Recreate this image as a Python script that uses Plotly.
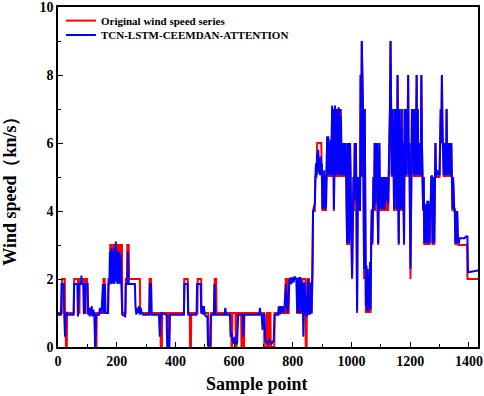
import plotly.graph_objects as go

# ---- Original wind speed series: low-speed part, value changes (sample where a run starts, value) ----
orig_low_x = [0, 14, 24, 27, 31, 55, 69, 74, 89, 93, 100, 126, 132, 155, 160, 172, 178, 181, 185, 188,
              192, 196, 199, 203, 207, 211, 214, 219, 231, 236, 242, 280, 312, 318, 350, 355, 376, 381,
              430, 443, 450, 454, 476, 489, 513, 522, 534, 540, 591, 594, 606, 609, 625, 627,
              633, 635, 703, 712, 716, 722, 725, 738, 776, 781, 787, 815, 818, 822, 825, 830, 833, 844,
              848, 851, 856]
orig_low_y = [1, 2, 1, 0, 1, 2, 1, 2, 1, 2, 1, 0, 1, 2, 1, 2, 3, 2, 3, 2,
              3, 2, 3, 2, 3, 2, 3, 1, 2, 3, 2, 1, 2, 1, 0, 1, 0, 1,
              2, 1, 0, 1, 2, 1, 0, 1, 2, 1, 0, 1, 0, 1, 0, 1,
              0, 1, 0, 1, 0, 1, 0, 1, 2, 1, 2, 1, 2, 1, 2, 1, 2, 0,
              1, 2, 1]

# ---- Original wind speed series: high-speed part (sample, value) ----
orig_high_x = [864, 867, 869, 872, 875, 877, 879, 881, 883, 885, 887, 889, 891, 893, 895,
               897, 899, 901, 903, 905, 907, 909, 911, 913, 915, 917, 919, 921, 923, 925,
               927, 929, 931, 934, 936, 938, 940, 942, 944, 946, 948, 950, 952, 954, 956,
               958, 960, 962, 964, 966, 968, 970, 972, 974, 976, 978, 980, 982, 985, 988,
               990, 992, 995, 997, 999, 1002, 1005, 1007, 1009, 1011, 1013, 1015, 1017, 1019, 1021,
               1023, 1025, 1027, 1029, 1031, 1033, 1035, 1037, 1039, 1041, 1043, 1045, 1047, 1049, 1051,
               1053, 1055, 1057, 1059, 1061, 1063, 1065, 1067, 1069, 1071, 1073, 1075, 1077, 1079, 1081,
               1083, 1085, 1087, 1089, 1091, 1093, 1095, 1097, 1099, 1101, 1103, 1105, 1107, 1109, 1111,
               1113, 1115, 1117, 1119, 1121, 1123, 1125, 1127, 1129, 1131, 1133, 1135, 1137, 1139, 1141,
               1143, 1145, 1147, 1149, 1151, 1153, 1155, 1157, 1159, 1161, 1163, 1165, 1167, 1169, 1171,
               1173, 1175, 1177, 1179, 1181, 1183, 1185, 1187, 1189, 1191, 1193, 1195, 1197, 1199, 1201,
               1204, 1206, 1208, 1210, 1212, 1214, 1216, 1218, 1220, 1222, 1224, 1226, 1228, 1230, 1232,
               1234, 1236, 1238, 1240, 1242, 1244, 1246, 1248, 1250, 1252, 1254, 1256, 1258, 1260, 1262,
               1264, 1266, 1268, 1270, 1272, 1274, 1276, 1278, 1280, 1282, 1284, 1286, 1288, 1290, 1292,
               1294, 1296, 1298, 1300, 1302, 1304, 1306, 1308, 1310, 1312, 1314, 1316, 1318, 1320, 1322,
               1324, 1326, 1328, 1330, 1332, 1334, 1336, 1338, 1340, 1342, 1344, 1346, 1348, 1350, 1352,
               1354, 1356, 1358, 1360, 1362, 1364, 1366, 1368, 1375, 1385, 1390, 1394, 1395, 1431]
orig_high_y = [1, 2, 4, 4, 4, 5, 5, 5, 6, 6, 6, 6, 6, 6, 6,
               6, 5, 4, 5, 4, 5, 4, 5, 4, 5, 6, 5, 6, 5, 6,
               5, 6, 5, 7, 5, 7, 4, 5, 7, 5, 7, 5, 7, 5, 7,
               5, 7, 5, 7, 5, 6, 5, 6, 5, 6, 5, 6, 5, 3, 6,
               5, 3, 6, 5, 4, 2, 4, 5, 4, 6, 5, 6, 4, 1, 4,
               5, 4, 5, 4, 8, 5, 9, 8, 7, 4, 2, 7, 2, 1, 2,
               1, 2, 1, 2, 1, 2, 1, 3, 4, 3, 4, 5, 4, 6, 4,
               6, 5, 6, 4, 3, 5, 6, 4, 5, 4, 5, 4, 5, 4, 5,
               4, 5, 4, 5, 4, 5, 4, 5, 5, 7, 9, 7, 5, 7, 5,
               6, 4, 7, 5, 7, 4, 5, 8, 5, 3, 7, 5, 6, 4, 7,
               4, 6, 5, 3, 7, 5, 7, 5, 7, 6, 8, 5, 6, 4, 2,
               5, 7, 6, 7, 5, 7, 6, 5, 6, 8, 5, 7, 5, 6, 5,
               6, 5, 8, 6, 5, 4, 5, 3, 4, 3, 4, 3, 4, 3, 4,
               4, 3, 4, 4, 5, 5, 3, 4, 5, 3, 5, 6, 5, 5, 5,
               5, 5, 5, 5, 6, 7, 6, 8, 6, 6, 5, 6, 5, 6, 5,
               7, 5, 6, 5, 6, 5, 6, 5, 6, 5, 4, 5, 4, 4, 4,
               3, 4, 3, 4, 3, 3, 3, 3, 3, 3, 3, 3, 2, 2]

# ---- TCN-LSTM-CEEMDAN-ATTENTION prediction (sample, value) ----
pred_x = [0, 10, 12, 19, 21, 24, 26, 30, 33, 53, 55, 66, 68, 71, 78, 80, 82, 86, 88, 91, 93, 101,
          103, 106, 108, 110, 112, 115, 117, 120, 124, 127, 130, 140, 143, 146, 149, 153, 156, 160,
          162, 170, 172, 175, 177, 179, 181, 183, 185, 187, 189, 191, 193, 195, 197, 199, 201, 203,
          205, 207, 209, 211, 213, 216, 219, 229, 231, 236, 238, 241, 262, 264, 267, 270, 273, 276,
          279, 282, 285, 290, 311, 313, 317, 319, 344, 347, 350, 353, 370, 372, 376, 378, 381, 429,
          431, 442, 444, 472, 474, 486, 488, 491, 494, 497, 500, 505, 509, 511, 518, 521, 531, 533,
          536, 568, 570, 573, 586, 588, 592, 595, 598, 602, 605, 610, 614, 629, 631, 634, 686, 688,
          690, 694, 697, 700, 704, 706, 712, 720, 728, 735, 738, 750, 752, 755, 758, 761, 764, 768,
          772, 776, 779, 782, 784, 787, 789, 791, 793, 795, 797, 799, 801, 803, 805, 808, 812, 815,
          818, 820, 822, 824, 828, 830, 833, 836, 840, 844, 848, 851, 853, 857, 860, 864, 867, 869,
          872, 875, 877, 879, 881, 883, 885, 887, 889, 891, 893, 895, 897, 899, 901, 903, 905, 907,
          909, 911, 913, 915, 917, 919, 921, 923, 925, 927, 929, 931, 934, 936, 938, 940, 942, 944,
          946, 948, 950, 952, 954, 956, 958, 960, 962, 964, 966, 968, 970, 972, 974, 976, 978, 980,
          982, 985, 988, 990, 992, 995, 997, 999, 1002, 1005, 1007, 1009, 1011, 1013, 1015, 1017,
          1019, 1021, 1023, 1025, 1027, 1029, 1031, 1033, 1035, 1037, 1039, 1041, 1043, 1045, 1047,
          1049, 1051, 1053, 1055, 1057, 1059, 1061, 1063, 1065, 1067, 1069, 1071, 1073, 1075, 1077,
          1079, 1081, 1083, 1085, 1087, 1089, 1091, 1093, 1095, 1097, 1099, 1101, 1103, 1105, 1107,
          1109, 1111, 1113, 1115, 1117, 1119, 1121, 1123, 1125, 1127, 1129, 1131, 1133, 1135, 1137,
          1139, 1141, 1143, 1145, 1147, 1149, 1151, 1153, 1155, 1157, 1159, 1161, 1163, 1165, 1167,
          1169, 1171, 1173, 1175, 1177, 1179, 1181, 1183, 1185, 1187, 1189, 1191, 1193, 1195, 1197,
          1199, 1201, 1204, 1206, 1208, 1210, 1212, 1214, 1216, 1218, 1220, 1222, 1224, 1226, 1228,
          1230, 1232, 1234, 1236, 1238, 1240, 1242, 1244, 1246, 1248, 1250, 1252, 1254, 1256, 1258,
          1260, 1262, 1264, 1266, 1268, 1270, 1272, 1274, 1276, 1278, 1280, 1282, 1284, 1286, 1288,
          1290, 1292, 1294, 1296, 1298, 1300, 1302, 1304, 1306, 1308, 1310, 1312, 1314, 1316, 1318,
          1320, 1322, 1324, 1326, 1328, 1330, 1332, 1334, 1336, 1338, 1340, 1342, 1344, 1346, 1348,
          1350, 1352, 1354, 1356, 1358, 1360, 1362, 1364, 1366, 1368, 1375, 1385, 1390, 1395, 1397,
          1431]
pred_y = [0.95, 0.95, 1.85, 1.85, 1.0, 0.3, 0.95, 1.0, 0.95, 0.95, 1.85, 1.85, 0.9, 1.85, 1.85, 2.1,
          1.85, 1.85, 1.0, 1.0, 1.85, 1.85, 0.95, 1.15, 0.9, 1.15, 0.95, 1.2, 0.9, 1.1, 0.95, 0.0,
          0.95, 0.95, 1.15, 1.0, 1.1, 1.85, 1.0, 1.85, 1.0, 1.0, 1.85, 1.85, 2.8, 1.9, 2.9, 1.85,
          2.8, 1.9, 2.9, 1.85, 2.9, 2.0, 3.1, 1.9, 2.8, 1.85, 2.8, 1.9, 2.8, 1.85, 2.7, 1.85, 0.95,
          0.9, 1.85, 1.85, 2.8, 1.85, 1.85, 1.2, 0.95, 1.15, 1.0, 1.2, 0.95, 1.15, 1.0, 0.95, 0.95,
          1.85, 1.85, 0.95, 0.95, 0.3, 0.95, 1.0, 0.95, 0.0, 0.3, 0.0, 0.95, 0.95, 1.85, 1.85, 0.95,
          0.95, 1.85, 1.85, 1.0, 1.2, 0.95, 1.2, 0.95, 0.9, 0.9, 0.05, 0.05, 0.95, 0.95, 1.85, 0.95,
          0.95, 1.15, 0.95, 0.95, 0.3, 0.4, 0.2, 0.1, 0.3, 0.1, 0.1, 0.95, 0.95, 0.3, 0.95, 0.95,
          1.15, 0.95, 0.95, 0.5, 0.95, 0.95, 0.2, 0.1, 0.2, 0.1, 0.2, 0.95, 0.95, 1.2, 0.95, 1.2,
          1.0, 1.2, 1.0, 1.2, 1.85, 1.2, 1.0, 1.2, 1.9, 2.0, 1.9, 2.05, 1.85, 2.05, 1.9, 2.05, 1.9,
          2.05, 2.05, 2.0, 1.0, 2.0, 2.05, 1.0, 2.05, 2.0, 1.0, 1.9, 0.3, 1.9, 1.0, 0.9, 2.0, 1.0,
          0.95, 1.9, 1.0, 2.5, 4.0, 4.1, 4.2, 5.0, 5.4, 5.05, 5.7, 5.2, 5.8, 5.1, 5.5, 5.05, 5.6,
          5.1, 5.4, 4.05, 5.05, 4.05, 5.2, 4.05, 5.05, 4.1, 5.05, 6.2, 5.05, 6.2, 5.1, 6.0, 5.05,
          6.1, 5.05, 7.1, 5.05, 7.0, 4.05, 5.05, 7.1, 5.05, 7.0, 5.2, 7.0, 5.05, 7.05, 5.05, 7.0,
          5.05, 6.8, 5.1, 6.0, 5.05, 6.0, 5.05, 6.0, 5.05, 6.0, 5.05, 3.05, 6.0, 5.05, 3.05, 6.0,
          5.05, 4.5, 2.05, 4.0, 5.0, 4.3, 6.0, 5.0, 6.0, 4.0, 1.05, 4.0, 5.0, 4.2, 5.0, 4.0, 8.0,
          5.0, 9.0, 8.0, 7.0, 4.0, 2.3, 7.0, 2.1, 1.2, 2.4, 1.05, 2.3, 1.05, 2.1, 1.2, 2.5, 1.1,
          3.05, 4.05, 3.05, 4.05, 5.0, 4.05, 6.0, 4.2, 6.0, 5.0, 6.0, 4.2, 3.05, 5.0, 6.0, 4.05,
          5.0, 4.05, 5.0, 4.05, 5.0, 4.1, 5.0, 4.05, 5.0, 4.3, 5.0, 4.5, 5.0, 4.2, 5.0, 5.2, 7.0,
          9.0, 7.0, 5.05, 7.0, 5.05, 6.0, 4.05, 7.0, 5.05, 7.0, 4.05, 5.05, 8.0, 5.05, 3.05, 7.0,
          5.05, 6.0, 4.05, 7.0, 4.05, 6.0, 5.05, 3.05, 7.0, 5.05, 7.0, 5.05, 7.0, 6.0, 8.0, 5.05,
          6.0, 4.05, 2.3, 5.0, 7.0, 6.0, 7.0, 5.05, 7.0, 6.0, 5.05, 6.0, 8.0, 5.05, 7.0, 5.05, 6.0,
          5.05, 6.0, 5.05, 8.0, 6.0, 5.05, 4.05, 5.0, 3.05, 4.2, 3.05, 4.2, 3.05, 4.3, 3.05, 4.3,
          4.05, 3.05, 4.2, 4.05, 5.0, 5.05, 3.05, 4.3, 5.0, 3.05, 5.0, 6.0, 5.0, 5.05, 5.2, 5.05,
          5.05, 5.1, 5.05, 6.0, 7.0, 6.0, 8.0, 6.5, 6.0, 5.05, 6.0, 5.05, 6.0, 5.05, 7.0, 5.05,
          6.0, 5.05, 6.0, 5.05, 6.0, 5.05, 6.0, 5.05, 4.05, 5.0, 4.05, 4.05, 4.05, 3.05, 4.0, 3.05,
          4.0, 3.05, 3.2, 3.05, 3.2, 3.2, 3.2, 3.25, 3.25, 2.2, 2.25]

x_ticks = [0, 200, 400, 600, 800, 1000, 1200, 1400]
y_ticks = [0, 2, 4, 6, 8, 10]

# The low-speed part of the original series is a sequence of constant runs: each run
# holds its value from its start sample up to the sample before the next change.
run_ends = [x - 1 for x in orig_low_x[1:]] + [orig_high_x[0] - 1]
orig_x, orig_y = [], []
for start, end, val in zip(orig_low_x, run_ends, orig_low_y):
    orig_x += [start, end]
    orig_y += [val, val]
orig_x += orig_high_x
orig_y += orig_high_y

serif = "Liberation Serif, Times New Roman, serif"

fig = go.Figure()
fig.add_trace(go.Scatter(x=orig_x, y=orig_y, mode="lines", name="Original wind speed series",
                         line=dict(color="#ff0000", width=2), legend="legend"))
fig.add_trace(go.Scatter(x=pred_x, y=pred_y, mode="lines", name="TCN-LSTM-CEEMDAN-ATTENTION",
                         line=dict(color="#0000ff", width=2), legend="legend2"))

axis_common = dict(showline=True, linecolor="black", linewidth=1.5, mirror=True, automargin=False,
                   showgrid=False, zeroline=False, ticks="inside", ticklen=5, tickwidth=1.2,
                   tickcolor="black", ticklabeloverflow="allow",
                   tickfont=dict(family=serif, size=14, color="black", weight="bold"))

fig.update_xaxes(range=[0, 1431], tickvals=x_ticks, ticktext=[str(v) for v in x_ticks],
                 minor=dict(ticks="inside", ticklen=3, dtick=100, tick0=0, tickcolor="black"),
                 **axis_common)
fig.update_yaxes(range=[0, 10], tickvals=y_ticks, ticktext=[str(v) for v in y_ticks],
                 minor=dict(ticks="inside", ticklen=3, dtick=1, tick0=0, tickcolor="black"),
                 **axis_common)

legend_style = dict(xanchor="left", yanchor="middle", bgcolor="rgba(0,0,0,0)",
                    font=dict(family=serif, size=11, color="black", weight="bold"),
                    borderwidth=0)

fig.update_layout(
    width=484, height=396,
    margin=dict(l=58, r=6, t=7, b=49, autoexpand=False),
    paper_bgcolor="white", plot_bgcolor="white",
    showlegend=True,
    legend=dict(x=0.007, y=0.960, **legend_style),
    legend2=dict(x=0.007, y=0.918, **legend_style),
    annotations=[
        dict(text="Sample point", xref="paper", yref="paper", x=0.474, y=-0.11,
             xanchor="center", yanchor="middle", showarrow=False,
             font=dict(family=serif, size=18, color="black", weight="bold")),
        dict(text="Wind speed（kn/s）", xref="paper", yref="paper", x=-0.113, y=0.47,
             xanchor="center", yanchor="middle", showarrow=False, textangle=-90,
             font=dict(family=serif, size=18, color="black", weight="bold")),
    ],
)

fig.write_html("out.html", config={"displayModeBar": False},
               post_script="document.body.style.margin='0';document.body.style.padding='0';")
